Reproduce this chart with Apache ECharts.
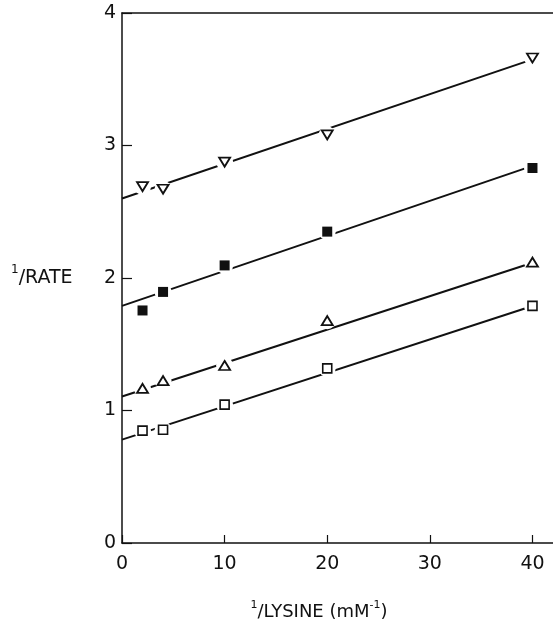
<!DOCTYPE html>
<html>
<head>
<meta charset="utf-8">
<script src="https://cdn.jsdelivr.net/npm/echarts@6/dist/echarts.min.js"></script>
<style>
  html, body { margin: 0; padding: 0; background: #fff; }
  #chart { width: 553px; height: 634px; }
</style>
</head>
<body>
<div id="chart"></div>
<script>
// 1/lysine concentrations (mM^-1)
var lysineInv = [2, 4, 10, 20, 40];
// 1/rate for each data set
var downTri = [2.69, 2.67, 2.875, 3.08, 3.66];
var filledSq = [1.755, 1.895, 2.095, 2.35, 2.83];
var upTri = [1.167, 1.225, 1.34, 1.678, 2.12];
var openSq = [0.848, 0.855, 1.044, 1.318, 1.79];
// fitted lines, from x = 0 to x = 40
var fitX = [0, 40];
var fitDown = [2.6, 3.65];
var fitFilled = [1.79, 2.846];
var fitUp = [1.106, 2.115];
var fitOpen = [0.78, 1.789];
var xTicks = [0, 10, 20, 30, 40];
var yTicks = [0, 1, 2, 3, 4];

function pairs(xs, ys) {
    return xs.map(function (x, i) { return [x, ys[i]]; });
}

var ink = '#111';
var series = [];
[fitDown, fitFilled, fitUp, fitOpen].forEach(function (fit) {
    series.push({
        type: 'line',
        data: pairs(fitX, fit),
        symbol: 'none',
        lineStyle: { color: ink, width: 2 },
        z: 2,
        silent: true
    });
});
// white halo so the lines break around each marker
[downTri, filledSq, upTri, openSq].forEach(function (ys) {
    series.push({
        type: 'scatter',
        data: pairs(lysineInv, ys),
        symbol: 'circle',
        symbolSize: 17,
        itemStyle: { color: '#fff', opacity: 1 },
        z: 3,
        silent: true
    });
});
series.push({
    type: 'scatter', data: pairs(lysineInv, downTri),
    symbol: 'triangle', symbolRotate: 180, symbolSize: [11, 9],
    itemStyle: { color: '#fff', borderColor: ink, borderWidth: 1.8, opacity: 1 }, z: 4
});
series.push({
    type: 'scatter', data: pairs(lysineInv, filledSq),
    symbol: 'rect', symbolSize: 10,
    itemStyle: { color: ink, opacity: 1 }, z: 4
});
series.push({
    type: 'scatter', data: pairs(lysineInv, upTri),
    symbol: 'triangle', symbolSize: [11, 9],
    itemStyle: { color: '#fff', borderColor: ink, borderWidth: 1.8, opacity: 1 }, z: 4
});
series.push({
    type: 'scatter', data: pairs(lysineInv, openSq),
    symbol: 'rect', symbolSize: 9,
    itemStyle: { color: '#fff', borderColor: ink, borderWidth: 1.6, opacity: 1 }, z: 4
});

var chart = echarts.init(document.getElementById('chart'));
chart.setOption({
    backgroundColor: '#fff',
    animation: false,
    grid: { left: 122, top: 13, bottom: 91, right: 0 },
    xAxis: [{
        type: 'value', min: 0, max: 42, interval: 10,
        axisLine: { lineStyle: { color: ink, width: 1.5 } },
        axisTick: {
            inside: true, length: 8, lineStyle: { color: ink, width: 1.2 },
            customValues: xTicks
        },
        axisLabel: {
            color: ink, fontSize: 19, fontFamily: 'DejaVu Sans', margin: 12,
            customValues: xTicks
        },
        splitLine: { show: false }
    }, {
        // top frame line
        type: 'value', position: 'top', min: 0, max: 42,
        axisLine: { show: true, lineStyle: { color: ink, width: 1.5 } },
        axisTick: { show: false },
        axisLabel: { show: false },
        splitLine: { show: false }
    }],
    yAxis: {
        type: 'value', min: 0, max: 4, interval: 1,
        axisLine: { lineStyle: { color: ink, width: 1.5 } },
        axisTick: { inside: true, length: 10, lineStyle: { color: ink, width: 1.2 } },
        axisLabel: {
            color: ink, fontSize: 19, fontFamily: 'DejaVu Sans', margin: 6,
            formatter: function (v) { return yTicks.indexOf(v) >= 0 ? String(v) : ''; }
        },
        splitLine: { show: false }
    },
    graphic: [
        {
            type: 'text', left: 11, top: 264,
            style: {
                text: '{s|1}{n|/RATE}',
                fill: ink,
                rich: {
                    s: { fontSize: 12, fontFamily: 'DejaVu Sans', padding: [0, 0, 16, 0], fill: ink },
                    n: { fontSize: 19, fontFamily: 'DejaVu Sans', fill: ink }
                }
            }
        },
        {
            type: 'text', x: 319, y: 600,
            style: {
                text: '{s|1}{n|/LYSINE (mM}{s|-1}{n|)}',
                align: 'center',
                fill: ink,
                rich: {
                    s: { fontSize: 11, fontFamily: 'DejaVu Sans', padding: [0, 0, 13, 0], fill: ink },
                    n: { fontSize: 18, fontFamily: 'DejaVu Sans', fill: ink }
                }
            }
        }
    ],
    series: series
});
</script>
</body>
</html>
